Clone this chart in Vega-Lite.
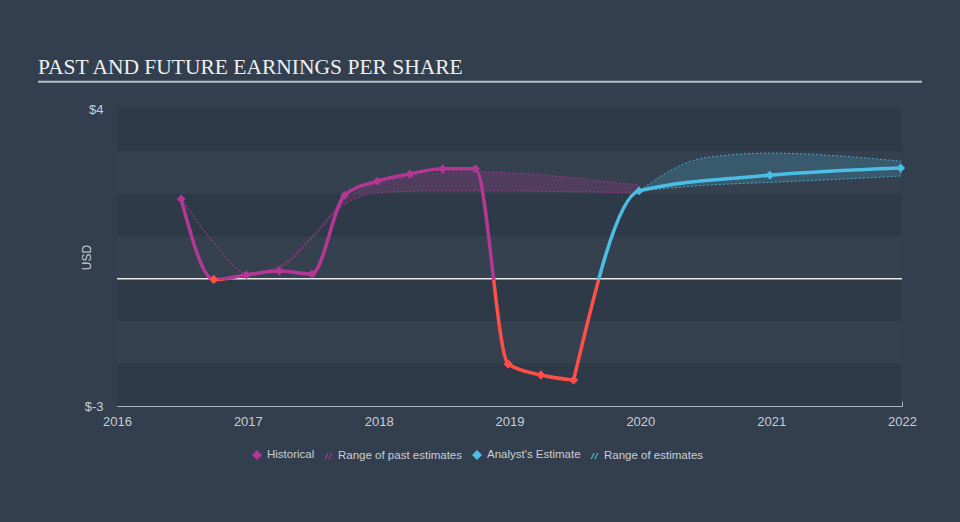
{
  "$schema": "https://vega.github.io/schema/vega-lite/v6.json",
  "width": 785,
  "height": 297,
  "autosize": "none",
  "padding": {"left": 117, "top": 109, "right": 58, "bottom": 116},
  "background": "#333f4e",
  "title": {
    "text": "PAST AND FUTURE EARNINGS PER SHARE",
    "anchor": "start",
    "frame": "group",
    "dx": -79,
    "offset": 2,
    "font": "Liberation Serif",
    "fontSize": 21.5,
    "fontWeight": "normal",
    "color": "#eef0f2"
  },
  "datasets": {
    "eps": [
      {"year": 2016.49, "eps": 1.88, "series": "Historical"},
      {"year": 2016.74, "eps": -0.02, "series": "Historical"},
      {"year": 2016.99, "eps": 0.09, "series": "Historical"},
      {"year": 2017.24, "eps": 0.18, "series": "Historical"},
      {"year": 2017.49, "eps": 0.11, "series": "Historical"},
      {"year": 2017.74, "eps": 1.97, "series": "Historical"},
      {"year": 2017.99, "eps": 2.30, "series": "Historical"},
      {"year": 2018.24, "eps": 2.47, "series": "Historical"},
      {"year": 2018.49, "eps": 2.59, "series": "Historical"},
      {"year": 2018.74, "eps": 2.59, "series": "Historical"},
      {"year": 2018.99, "eps": -2.01, "series": "Historical"},
      {"year": 2019.24, "eps": -2.27, "series": "Historical"},
      {"year": 2019.49, "eps": -2.39, "series": "Historical"},
      {"year": 2019.99, "eps": 2.07, "series": "Analyst's Estimate"},
      {"year": 2020.99, "eps": 2.44, "series": "Analyst's Estimate"},
      {"year": 2021.99, "eps": 2.61, "series": "Analyst's Estimate"}
    ],
    "pastRange": [
      {"year": 2016.49, "low": 1.88, "high": 1.88},
      {"year": 2016.74, "low": 0.85, "high": 0.85},
      {"year": 2016.99, "low": 0.13, "high": 0.13},
      {"year": 2017.24, "low": 0.25, "high": 0.30},
      {"year": 2017.49, "low": 0.95, "high": 1.00},
      {"year": 2017.74, "low": 1.75, "high": 1.85},
      {"year": 2017.99, "low": 2.02, "high": 2.25},
      {"year": 2018.24, "low": 2.06, "high": 2.40},
      {"year": 2018.49, "low": 2.07, "high": 2.50},
      {"year": 2018.74, "low": 2.07, "high": 2.52},
      {"year": 2018.99, "low": 2.07, "high": 2.50},
      {"year": 2019.24, "low": 2.06, "high": 2.45},
      {"year": 2019.49, "low": 2.05, "high": 2.38},
      {"year": 2019.99, "low": 2.02, "high": 2.20}
    ],
    "futRange": [
      {"year": 2019.99, "low": 2.07, "high": 2.07},
      {"year": 2020.49, "low": 2.20, "high": 2.85},
      {"year": 2020.99, "low": 2.27, "high": 2.96},
      {"year": 2021.49, "low": 2.34, "high": 2.90},
      {"year": 2021.99, "low": 2.42, "high": 2.77}
    ],
    "bands": [
      {"lo": 3, "hi": 4},
      {"lo": 1, "hi": 2},
      {"lo": -1, "hi": 0},
      {"lo": -3, "hi": -2}
    ],
    "underline": [
      {"start": 2015.396, "end": 2022.153, "level": 4.64}
    ]
  },
  "layer": [
    {
      "data": {"values": [{"a": 1}]},
      "mark": {"type": "rect", "color": "#35414f"},
      "encoding": {
        "x": {"datum": 2016, "type": "quantitative"},
        "x2": {"datum": 2022},
        "y": {"datum": -3, "type": "quantitative"},
        "y2": {"datum": 4}
      }
    },
    {
      "data": {"name": "bands"},
      "mark": {"type": "rect", "color": "#2e3a48"},
      "encoding": {
        "x": {"datum": 2016, "type": "quantitative"},
        "x2": {"datum": 2022},
        "y": {"field": "lo", "type": "quantitative"},
        "y2": {"field": "hi"}
      }
    },
    {
      "data": {"name": "underline"},
      "mark": {"type": "rule", "color": "#b9bec6", "strokeWidth": 2},
      "encoding": {
        "x": {"field": "start", "type": "quantitative"},
        "x2": {"field": "end"},
        "y": {"field": "level", "type": "quantitative"}
      }
    },
    {
      "data": {"values": [{"zero": 0}]},
      "mark": {"type": "rule", "color": "#e6e8ea", "strokeWidth": 1.5},
      "encoding": {
        "x": {"datum": 2016, "type": "quantitative"},
        "x2": {"datum": 2022},
        "y": {"field": "zero", "type": "quantitative"}
      }
    },
    {
      "data": {"name": "pastRange"},
      "mark": {"type": "area", "interpolate": "monotone", "fill": "#b43796", "fillOpacity": 0.22, "stroke": "#b43796", "strokeOpacity": 0.7, "strokeWidth": 1, "strokeDash": [2, 2]},
      "encoding": {
        "x": {"field": "year", "type": "quantitative"},
        "y": {"field": "low", "type": "quantitative"},
        "y2": {"field": "high"}
      }
    },
    {
      "data": {"name": "futRange"},
      "mark": {"type": "area", "interpolate": "monotone", "fill": "#4bbee6", "fillOpacity": 0.2, "stroke": "#4bbee6", "strokeOpacity": 0.8, "strokeWidth": 1, "strokeDash": [2, 2]},
      "encoding": {
        "x": {"field": "year", "type": "quantitative"},
        "y": {"field": "low", "type": "quantitative"},
        "y2": {"field": "high"}
      }
    },
    {
      "data": {"name": "eps"},
      "transform": [{"filter": "datum.series === 'Historical'"}],
      "mark": {
        "type": "line",
        "interpolate": "monotone",
        "strokeWidth": 3.5,
        "stroke": {
          "gradient": "linear", "x1": 0, "y1": 0, "x2": 0, "y2": 1,
          "stops": [
            {"offset": 0, "color": "#b43796"},
            {"offset": 0.526, "color": "#b43796"},
            {"offset": 0.526, "color": "#ff4f46"},
            {"offset": 1, "color": "#ff4f46"}
          ]
        }
      },
      "encoding": {
        "x": {"field": "year", "type": "quantitative"},
        "y": {"field": "eps", "type": "quantitative"}
      }
    },
    {
      "data": {"name": "eps"},
      "transform": [{"filter": "datum.series !== 'Historical' || datum.year > 2019.4"}],
      "mark": {
        "type": "line",
        "interpolate": "monotone",
        "strokeWidth": 3.5,
        "stroke": {
          "gradient": "linear", "x1": 0, "y1": 0, "x2": 0, "y2": 1,
          "stops": [
            {"offset": 0, "color": "#4bbee6"},
            {"offset": 0.528, "color": "#4bbee6"},
            {"offset": 0.528, "color": "#ff4f46"},
            {"offset": 1, "color": "#ff4f46"}
          ]
        }
      },
      "encoding": {
        "x": {"field": "year", "type": "quantitative"},
        "y": {"field": "eps", "type": "quantitative"}
      }
    },
    {
      "data": {"name": "eps"},
      "mark": {"type": "point", "filled": true, "size": 80, "opacity": 1},
      "encoding": {
        "x": {"field": "year", "type": "quantitative"},
        "y": {"field": "eps", "type": "quantitative"},
        "color": {
          "field": "series",
          "type": "nominal",
          "scale": {
            "domain": ["Historical", "Range of past estimates", "Analyst's Estimate", "Range of estimates"],
            "range": ["#b43796", "#b43796", "#4bbee6", "#4bbee6"]
          },
          "legend": {
            "title": null,
            "orient": "none",
            "direction": "horizontal",
            "legendX": 134,
            "legendY": 340,
            "columnPadding": 6,
            "labelFont": "Liberation Sans",
            "labelFontSize": 11.5,
            "labelColor": "#c9ced6",
            "labelOffset": 4,
            "symbolSize": 100,
            "symbolOpacity": 1
          }
        },
        "shape": {
          "field": "series",
          "type": "nominal",
          "scale": {
            "domain": ["Historical", "Range of past estimates", "Analyst's Estimate", "Range of estimates"],
            "range": ["diamond", "M-0.7,0.6L-0.45,0.6L0.15,-0.6L-0.1,-0.6Z M0.05,0.6L0.3,0.6L0.9,-0.6L0.65,-0.6Z", "diamond", "M-0.7,0.6L-0.45,0.6L0.15,-0.6L-0.1,-0.6Z M0.05,0.6L0.3,0.6L0.9,-0.6L0.65,-0.6Z"]
          },
          "legend": {
            "title": null,
            "orient": "none",
            "direction": "horizontal",
            "legendX": 134,
            "legendY": 340,
            "columnPadding": 6,
            "labelFont": "Liberation Sans",
            "labelFontSize": 11.5,
            "labelColor": "#c9ced6",
            "labelOffset": 4,
            "symbolSize": 100,
            "symbolOpacity": 1
          }
        }
      }
    },
    {
      "data": {"name": "eps"},
      "transform": [{"filter": "datum.eps < 0"}],
      "mark": {"type": "point", "shape": "diamond", "filled": true, "size": 80, "color": "#ff4f46", "opacity": 1},
      "encoding": {
        "x": {"field": "year", "type": "quantitative"},
        "y": {"field": "eps", "type": "quantitative"}
      }
    }
  ],
  "resolve": {"scale": {"x": "shared", "y": "shared"}},
  "encoding": {
    "x": {
      "type": "quantitative",
      "scale": {"domain": [2016, 2022], "nice": false, "zero": false},
      "axis": {
        "title": null,
        "values": [2016, 2017, 2018, 2019, 2020, 2021, 2022],
        "format": "d",
        "grid": false,
        "labelFlush": false,
        "domainColor": "#a9b6c4",
        "tickColor": "#a9b6c4",
        "tickSize": -5,
        "labelPadding": 14,
        "labelFont": "Liberation Sans",
        "labelFontSize": 13,
        "labelColor": "#c9ced6"
      }
    },
    "y": {
      "type": "quantitative",
      "scale": {"domain": [-3, 4], "nice": false, "zero": false},
      "axis": {
        "title": "USD",
        "values": [-3, 4],
        "labelExpr": "'$' + datum.value",
        "grid": false,
        "domain": false,
        "ticks": false,
        "labelPadding": 14,
        "labelFont": "Liberation Sans",
        "labelFontSize": 13,
        "labelColor": "#c9ced6",
        "titleFont": "Liberation Sans",
        "titleFontSize": 12,
        "titleFontWeight": "normal",
        "titleColor": "#c9ced6",
        "titleX": -24,
        "titleY": 148
      }
    }
  },
  "config": {
    "view": {"stroke": null}
  }
}
